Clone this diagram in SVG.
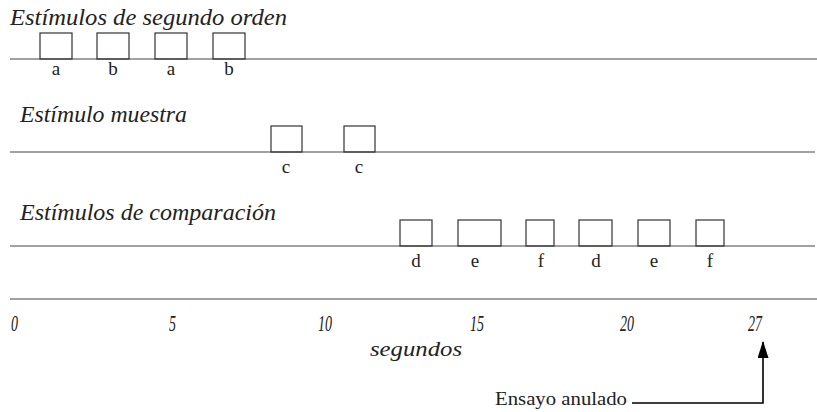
<svg xmlns="http://www.w3.org/2000/svg" width="817" height="412" viewBox="0 0 817 412">
<style>
text{font-family:"Liberation Serif","Times New Roman","DejaVu Serif",serif;fill:#222}
.t{font-style:italic;font-size:23px}
.l{font-size:19px;text-anchor:middle}
.n{font-style:italic;font-size:23px}
.b{fill:none;stroke:#333;stroke-width:1.2}
.ax{stroke:#444;stroke-width:1.2;fill:none}
</style>
<defs>
<marker id="ah" markerWidth="17" markerHeight="11" refX="16" refY="5.5" orient="auto" markerUnits="userSpaceOnUse" viewBox="0 0 17 11">
<path d="M0,0 L17,5.5 L0,11 Z" fill="#000"/>
</marker>
</defs>
<g id="row1">
<text class="t" x="10" y="25" textLength="277" lengthAdjust="spacingAndGlyphs">Estímulos de segundo orden</text>
<line class="ax" x1="10" y1="59" x2="817" y2="59"/>
<rect class="b" x="40" y="33" width="32" height="26"/>
<rect class="b" x="97" y="33" width="32" height="26"/>
<rect class="b" x="155" y="33" width="32" height="26"/>
<rect class="b" x="213" y="33" width="32" height="26"/>
<text class="l" x="56" y="75">a</text>
<text class="l" x="113" y="75">b</text>
<text class="l" x="171" y="75">a</text>
<text class="l" x="229" y="75">b</text>
</g>
<g id="row2">
<text class="t" x="20" y="122" textLength="167" lengthAdjust="spacingAndGlyphs">Estímulo muestra</text>
<line class="ax" x1="10" y1="152" x2="815" y2="152"/>
<rect class="b" x="271" y="126" width="31" height="26"/>
<rect class="b" x="344" y="126" width="31" height="26"/>
<text class="l" x="286" y="173">c</text>
<text class="l" x="359" y="173">c</text>
</g>
<g id="row3">
<text class="t" x="20" y="220" textLength="256" lengthAdjust="spacingAndGlyphs">Estímulos de comparación</text>
<line class="ax" x1="10" y1="246" x2="815" y2="246"/>
<rect class="b" x="400" y="220" width="32" height="26"/>
<rect class="b" x="458" y="220" width="43" height="26"/>
<rect class="b" x="526" y="220" width="28" height="26"/>
<rect class="b" x="579" y="220" width="33" height="26"/>
<rect class="b" x="638" y="220" width="32" height="26"/>
<rect class="b" x="696" y="220" width="28" height="26"/>
<text class="l" x="416" y="267">d</text>
<text class="l" x="475" y="267">e</text>
<text class="l" x="541" y="267">f</text>
<text class="l" x="596" y="267">d</text>
<text class="l" x="654" y="267">e</text>
<text class="l" x="710" y="267">f</text>
</g>
<g id="axis">
<line class="ax" x1="10" y1="299" x2="817" y2="299"/>
<text class="n" x="11" y="331" textLength="7" lengthAdjust="spacingAndGlyphs">0</text>
<text class="n" x="169" y="331" textLength="7" lengthAdjust="spacingAndGlyphs">5</text>
<text class="n" x="318" y="331" textLength="14" lengthAdjust="spacingAndGlyphs">10</text>
<text class="n" x="470" y="331" textLength="14" lengthAdjust="spacingAndGlyphs">15</text>
<text class="n" x="620" y="331" textLength="14" lengthAdjust="spacingAndGlyphs">20</text>
<text class="n" x="748" y="331" textLength="14" lengthAdjust="spacingAndGlyphs">27</text>
<text class="n" x="370" y="356" style="font-size:22px" textLength="92" lengthAdjust="spacingAndGlyphs">segundos</text>
</g>
<g id="note">
<text x="495" y="405" style="font-size:19px" textLength="132" lengthAdjust="spacingAndGlyphs">Ensayo anulado</text>
</g>
<g id="connectors">
<path d="M632,403 H763 V342" fill="none" stroke="#000" stroke-width="1.6" marker-end="url(#ah)"/>
</g>
</svg>
